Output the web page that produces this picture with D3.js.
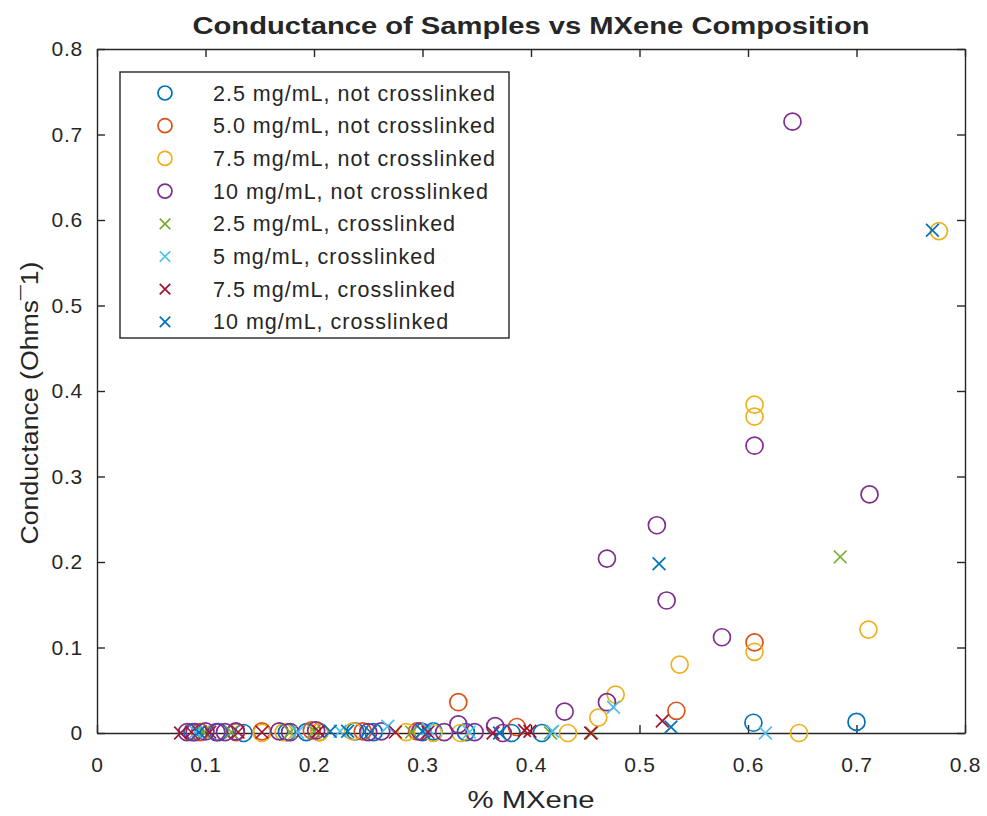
<!DOCTYPE html>
<html>
<head>
<meta charset="utf-8">
<script src="https://cdn.jsdelivr.net/npm/d3@7"></script>
<style>
  body { margin: 0; background: #fff; }
  text { font-family: "Liberation Sans", Arial, Helvetica, sans-serif; fill: #262626; }
</style>
</head>
<body>
<div class="graph"></div>
<script>
// Series labels and values (x = fraction MXene, y = conductance)
var seriesNames = [
    "2.5 mg/mL, not crosslinked",
    "5.0 mg/mL, not crosslinked",
    "7.5 mg/mL, not crosslinked",
    "10 mg/mL, not crosslinked",
    "2.5 mg/mL, crosslinked",
    "5 mg/mL, crosslinked",
    "7.5 mg/mL, crosslinked",
    "10 mg/mL, crosslinked"
];
var seriesMarkers = ["o", "o", "o", "o", "x", "x", "x", "x"];

var x25nc = [0.088, 0.112, 0.135, 0.175, 0.193, 0.238, 0.255, 0.300, 0.310, 0.340, 0.382, 0.410, 0.605, 0.700];
var y25nc = [0.001, 0.001, 0.000, 0.001, 0.001, 0.002, 0.001, 0.001, 0.002, 0.001, 0.000, 0.000, 0.012, 0.013];

var x50nc = [0.095, 0.128, 0.152, 0.198, 0.205, 0.245, 0.295, 0.333, 0.387, 0.534, 0.606];
var y50nc = [0.001, 0.001, 0.002, 0.003, 0.001, 0.002, 0.002, 0.036, 0.007, 0.026, 0.106];

var x75nc = [0.152, 0.172, 0.205, 0.236, 0.285, 0.310, 0.335, 0.434, 0.462, 0.478, 0.537, 0.606, 0.606, 0.606, 0.647, 0.711, 0.776];
var y75nc = [0.000, 0.001, 0.001, 0.002, 0.001, 0.000, 0.000, 0.000, 0.018, 0.045, 0.080, 0.095, 0.370, 0.384, 0.000, 0.121, 0.587];

var x10nc = [0.083, 0.090, 0.100, 0.110, 0.118, 0.128, 0.168, 0.178, 0.202, 0.250, 0.262, 0.298, 0.320, 0.333, 0.348, 0.367, 0.374, 0.431, 0.470, 0.470, 0.516, 0.525, 0.576, 0.606, 0.641, 0.712];
var y10nc = [0.001, 0.001, 0.002, 0.001, 0.001, 0.002, 0.002, 0.001, 0.003, 0.001, 0.002, 0.002, 0.001, 0.010, 0.001, 0.008, 0.000, 0.025, 0.036, 0.204, 0.243, 0.155, 0.112, 0.336, 0.715, 0.279];

var x25cl = [0.098, 0.124, 0.178, 0.200, 0.290, 0.418, 0.456, 0.685];
var y25cl = [0.001, 0.001, 0.001, 0.002, 0.001, 0.000, 0.000, 0.206];

var x5cl = [0.091, 0.185, 0.224, 0.268, 0.300, 0.305, 0.343, 0.420, 0.476, 0.616];
var y5cl = [0.001, 0.001, 0.002, 0.008, 0.002, 0.005, 0.001, 0.002, 0.030, 0.000];

var x75cl = [0.077, 0.087, 0.104, 0.130, 0.152, 0.204, 0.275, 0.305, 0.365, 0.394, 0.399, 0.455, 0.521];
var y75cl = [0.000, 0.001, 0.001, 0.001, 0.001, 0.002, 0.001, 0.001, 0.000, 0.003, 0.002, 0.000, 0.014];

var x10cl = [0.094, 0.215, 0.231, 0.252, 0.300, 0.371, 0.518, 0.529, 0.770];
var y10cl = [0.001, 0.002, 0.002, 0.001, 0.002, 0.000, 0.198, 0.007, 0.588];

var xs = [x25nc, x50nc, x75nc, x10nc, x25cl, x5cl, x75cl, x10cl];
var ys = [y25nc, y50nc, y75nc, y10nc, y25cl, y5cl, y75cl, y10cl];

var tickValues = [0, 0.1, 0.2, 0.3, 0.4, 0.5, 0.6, 0.7, 0.8];

// MATLAB default colour order (wraps for the 8th series)
var colours = ["#0072BD", "#D95319", "#EDB120", "#7E2F8E", "#77AC30", "#4DBEEE", "#A2142F", "#0072BD"];
var axisColour = "#262626";

var width = 987,
    height = 816,
    mLeft = 97, mRight = 965, mTop = 49, mBottom = 733;

var x = d3.scaleLinear().domain([0, 0.8]).range([mLeft, mRight]);
var y = d3.scaleLinear().domain([0, 0.8]).range([mBottom, mTop]);

var svg = d3.select('.graph').append("svg")
    .attr("width", width)
    .attr("height", height)
    .style("display", "block");

svg.append("rect").attr("width", width).attr("height", height).attr("fill", "#fff");

// axes with inward ticks
var fmt = function(d) { return String(+d.toFixed(1)); };
var tickLen = 8;

var xAxis = svg.append("g").attr("transform", "translate(0," + mBottom + ")")
    .call(d3.axisBottom(x).tickValues(tickValues).tickFormat(fmt).tickSizeInner(-tickLen).tickSizeOuter(0).tickPadding(24));
var xAxisTop = svg.append("g").attr("transform", "translate(0," + mTop + ")")
    .call(d3.axisTop(x).tickValues(tickValues).tickFormat("").tickSizeInner(-tickLen).tickSizeOuter(0));
var yAxis = svg.append("g").attr("transform", "translate(" + mLeft + ",0)")
    .call(d3.axisLeft(y).tickValues(tickValues).tickFormat(fmt).tickSizeInner(-tickLen).tickSizeOuter(0).tickPadding(14));
var yAxisRight = svg.append("g").attr("transform", "translate(" + mRight + ",0)")
    .call(d3.axisRight(y).tickValues(tickValues).tickFormat("").tickSizeInner(-tickLen).tickSizeOuter(0));

[xAxis, xAxisTop, yAxis, yAxisRight].forEach(function(a) {
    a.select(".domain").attr("stroke", axisColour).attr("stroke-width", 1.4);
    a.selectAll(".tick line").attr("stroke", axisColour).attr("stroke-width", 1.4);
    a.selectAll(".tick text")
        .attr("font-family", "Liberation Sans, Arial, sans-serif")
        .attr("font-size", 21)
        .attr("letter-spacing", 0.8)
        .attr("fill", axisColour);
});

// markers
function drawMarker(g, type, cx, cy, colour, r) {
    if (type === "o") {
        g.append("circle")
            .attr("cx", cx).attr("cy", cy).attr("r", r)
            .attr("fill", "none").attr("stroke", colour).attr("stroke-width", 1.7);
    } else {
        var s = r * 0.75;
        g.append("path")
            .attr("d", "M" + (cx - s) + "," + (cy - s) + "L" + (cx + s) + "," + (cy + s) +
                       "M" + (cx - s) + "," + (cy + s) + "L" + (cx + s) + "," + (cy - s))
            .attr("stroke", colour).attr("stroke-width", 1.7).attr("fill", "none");
    }
}

var plot = svg.append("g");
xs.forEach(function(xv, i) {
    var g = plot.append("g").attr("class", "series");
    xv.forEach(function(v, j) {
        drawMarker(g, seriesMarkers[i], x(v), y(ys[i][j]), colours[i], 8.5);
    });
});

// title and labels
svg.append("text")
    .attr("x", 531).attr("y", 34)
    .attr("text-anchor", "middle")
    .attr("font-size", 23).attr("font-weight", "bold")
    .attr("textLength", 677).attr("lengthAdjust", "spacingAndGlyphs")
    .text("Conductance of Samples vs MXene Composition");

svg.append("text")
    .attr("x", 531).attr("y", 808)
    .attr("text-anchor", "middle")
    .attr("font-size", 23)
    .attr("textLength", 127).attr("lengthAdjust", "spacingAndGlyphs")
    .text("% MXene");

svg.append("text")
    .attr("transform", "translate(38,403) rotate(-90)")
    .attr("text-anchor", "middle")
    .attr("font-size", 23)
    .attr("textLength", 283).attr("lengthAdjust", "spacingAndGlyphs")
    .text("Conductance (Ohms\u00AF1)");

// legend
var legend = svg.append("g").attr("transform", "translate(120,72)");
legend.append("rect")
    .attr("width", 389).attr("height", 266)
    .attr("fill", "#fff").attr("stroke", axisColour).attr("stroke-width", 1.4);

seriesNames.forEach(function(name, i) {
    var ly = 21 + i * 32.7;
    drawMarker(legend, seriesMarkers[i], 45, ly, colours[i], 7);
    legend.append("text")
        .attr("x", 93).attr("y", ly + 7.5)
        .attr("font-size", 21.5)
        .attr("letter-spacing", 1)
        .text(name);
});
</script>
</body>
</html>
